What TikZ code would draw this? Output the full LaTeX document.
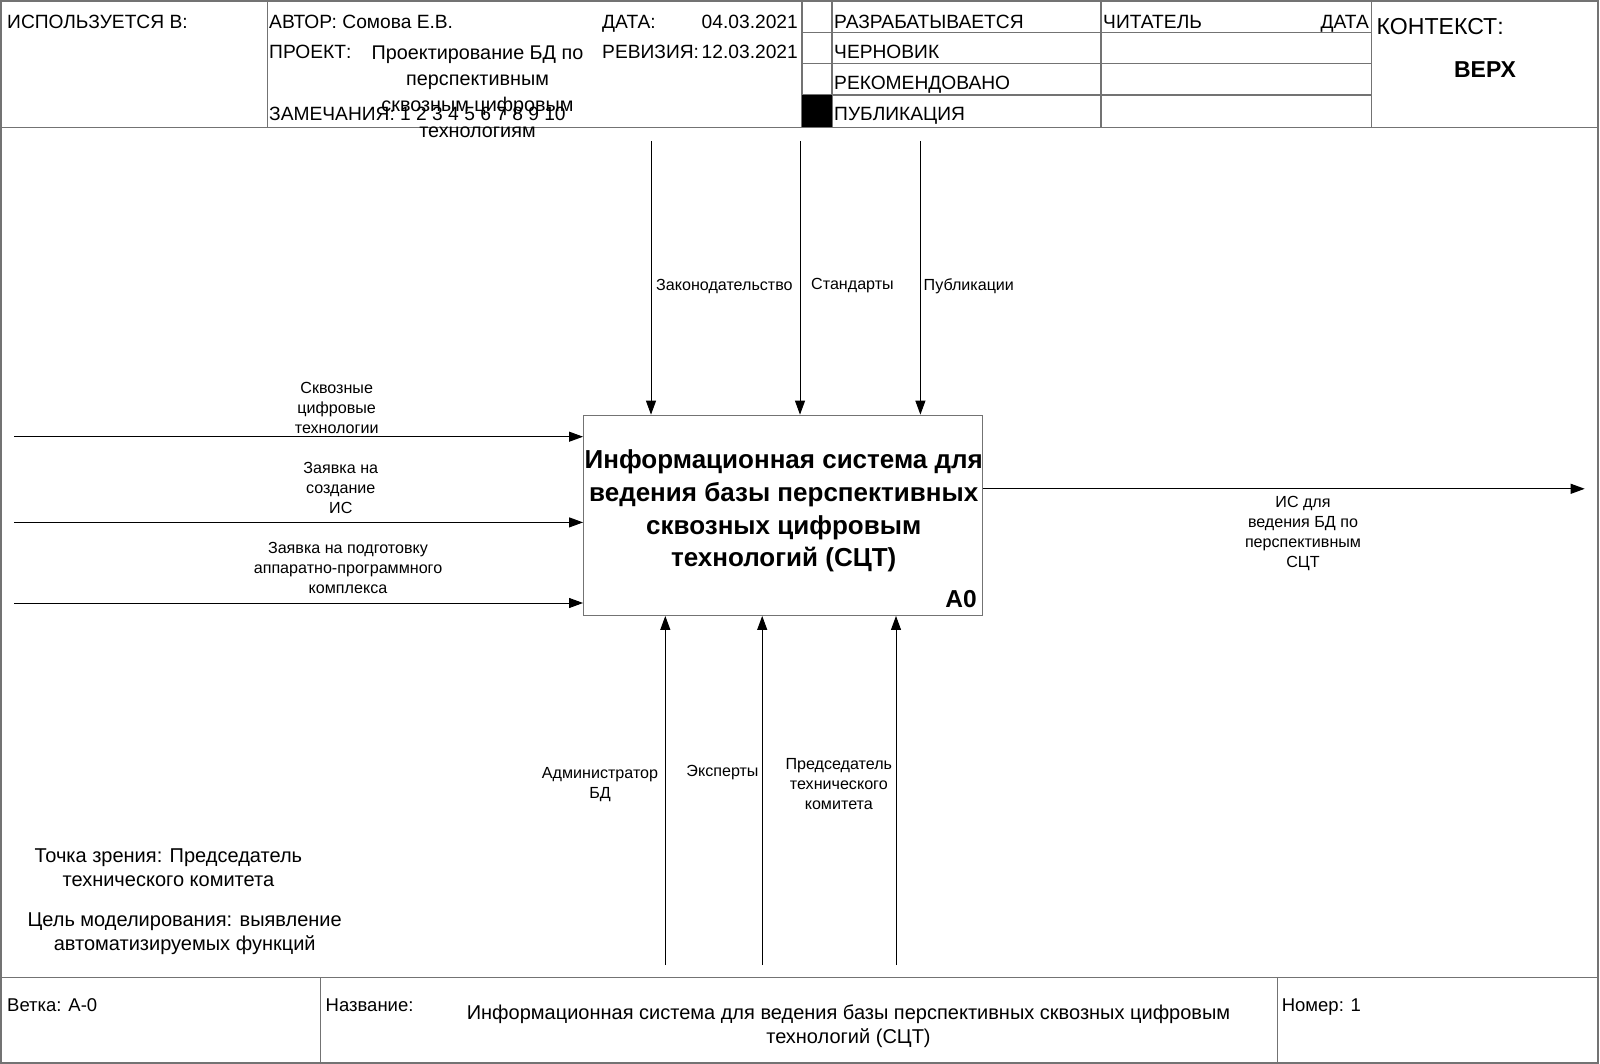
\documentclass[tikz,border=0pt]{standalone}
\usepackage{fontspec}
\setmainfont{Liberation Sans}
\usetikzlibrary{arrows.meta}

\newcommand{\fsz}[2]{\fontsize{#1}{#2}\selectfont}

\begin{document}
\begin{tikzpicture}[x=1pt,y=-1pt,
  frameline/.style={draw=black!55, line width=1.3pt},
  flow/.style={draw=black, line width=1pt, -{Triangle[length=14pt,width=10pt]}},
  hdr/.style={anchor=base west, inner sep=0pt, font=\fsz{19.2}{22}},
  ftr/.style={anchor=base west, inner sep=0pt, font=\fsz{18.5}{22}},
  lbl/.style={align=center, inner sep=0pt, font=\fsz{16.1}{20}},
  note/.style={align=center, inner sep=0pt, font=\fsz{20}{23.6}},
  actbox/.style={draw=black!55, line width=1.3pt, fill=white, minimum width=399pt, minimum height=200pt, inner sep=0pt},
]
\useasboundingbox (0,0) rectangle (1600,1064);
\fill[white] (0,0) rectangle (1600,1064);

% outer frame, header and footer rules
\draw[frameline] (1,1) rectangle (1598,1063);
\draw[frameline] (1,127.5) -- (1598,127.5);
\draw[frameline] (1,977.6) -- (1598,977.6);
\draw[frameline] (267.5,1) -- (267.5,127.5);
\draw[frameline] (802,1) -- (802,127.5);
\draw[frameline] (832,1) -- (832,127.5);
\draw[frameline] (1101,1) -- (1101,127.5);
\draw[frameline] (1371.5,1) -- (1371.5,127.5);
\foreach \yy in {32.6,63.3,94.9} \draw[frameline] (802,\yy) -- (1371.5,\yy);
\fill[black] (802,94.9) rectangle (832,127.5);
\draw[frameline] (320.4,977.6) -- (320.4,1063);
\draw[frameline] (1277.6,977.6) -- (1277.6,1063);

% header texts
\node[hdr] (used) at (7,28.5) {ИСПОЛЬЗУЕТСЯ В:};
\node[hdr] (author) at (269,28.5) {АВТОР: Сомова Е.В.};
\node[hdr] (proj) at (269,58.5) {ПРОЕКТ:};
\node[hdr] (notes) at (269,120.5) {ЗАМЕЧАНИЯ: 1 2 3 4 5 6 7 8 9 10};
\node[align=center, inner sep=0pt, font=\fsz{19.8}{26}] (projname) at (477.5,92)
  {Проектирование БД по\\перспективным\\сквозным цифровым\\технологиям};
\node[hdr] (date) at (602,28.5) {ДАТА:};
\node[hdr, anchor=base east] (dateval) at (798,28.5) {04.03.2021};
\node[hdr] (rev) at (602,58.5) {РЕВИЗИЯ:};
\node[hdr, anchor=base east] (revval) at (798,58.5) {12.03.2021};
\node[hdr] (st1) at (834,28.5) {РАЗРАБАТЫВАЕТСЯ};
\node[hdr] (st2) at (834,58.5) {ЧЕРНОВИК};
\node[hdr] (st3) at (834,90) {РЕКОМЕНДОВАНО};
\node[hdr] (st4) at (834,120.5) {ПУБЛИКАЦИЯ};
\node[hdr] (reader) at (1103,28.5) {ЧИТАТЕЛЬ};
\node[hdr, anchor=base east] (rdate) at (1369,28.5) {ДАТА};
\node[hdr, font=\fsz{23.1}{26}] (ctx) at (1376.5,34.4) {КОНТЕКСТ:};
\node[anchor=base, inner sep=0pt, font=\fsz{23}{26}\bfseries] (top) at (1485,77.4) {ВЕРХ};

% activity box
\node[actbox] (box) at (783.2,515.3) {};
\node[align=center, inner sep=0pt, font=\fsz{26}{32.6}\bfseries] (boxtext) at (783.7,511)
  {Информационная система для\\ведения базы перспективных\\сквозных цифровым\\технологий (СЦТ)};
\node[anchor=base east, inner sep=0pt, font=\fsz{24.5}{28}\bfseries] (boxid) at (977,607) {A0};

% controls
\coordinate (c1) at (651,141);
\coordinate (c2) at (800,141);
\coordinate (c3) at (920.4,141);
\draw[flow] (c1) -- (c1 |- box.north);
\draw[flow] (c2) -- (c2 |- box.north);
\draw[flow] (c3) -- (c3 |- box.north);
\node[lbl, anchor=west] (lc1) at (656,286) {Законодательство};
\node[lbl, anchor=west] (lc2) at (811,286) {Стандарты};
\node[lbl, anchor=west] (lc3) at (923.5,286) {Публикации};

% inputs
\coordinate (i1) at (14.3,436.7);
\coordinate (i2) at (14.3,522.4);
\coordinate (i3) at (14.3,603);
\draw[flow] (i1) -- (i1 -| box.west);
\draw[flow] (i2) -- (i2 -| box.west);
\draw[flow] (i3) -- (i3 -| box.west);
\node[lbl] (li1) at (336.7,408) {Сквозные\\цифровые\\технологии};
\node[lbl] (li2) at (340.8,488) {Заявка на\\создание\\ИС};
\node[lbl] (li3) at (348,567.7) {Заявка на подготовку\\аппаратно-программного\\комплекса};

% output
\coordinate (o1) at (1584.7,488.8);
\draw[flow] (o1 -| box.east) -- (o1);
\node[lbl] (lo1) at (1303,533.5) {ИС для\\ведения БД по\\перспективным\\СЦТ};

% mechanisms
\coordinate (m1) at (665.3,965);
\coordinate (m2) at (762.2,965);
\coordinate (m3) at (896,965);
\draw[flow] (m1) -- (m1 |- box.south);
\draw[flow] (m2) -- (m2 |- box.south);
\draw[flow] (m3) -- (m3 |- box.south);
\node[lbl] (lm1) at (600,785) {Администратор\\БД};
\node[lbl] (lm2) at (722.5,772.5) {Эксперты};
\node[lbl] (lm3) at (838.8,784.5) {Председатель\\технического\\комитета};

% viewpoint and purpose
\node[note] (view) at (168.4,867.5) {Точка зрения: Председатель\\технического комитета};
\node[note] (purpose) at (184.7,933.7) {Цель моделирования: выявление\\автоматизируемых функций};

% footer texts
\node[ftr] (node) at (7,1011.5) {Ветка: А-0};
\node[ftr] (titlelbl) at (325.5,1011.5) {Название:};
\node[align=center, inner sep=0pt, font=\fsz{20}{24.7}] (title) at (848.5,1026.3)
  {Информационная система для ведения базы перспективных сквозных цифровым\\технологий (СЦТ)};
\node[ftr] (number) at (1281.6,1011.5) {Номер: 1};
\end{tikzpicture}
\end{document}
